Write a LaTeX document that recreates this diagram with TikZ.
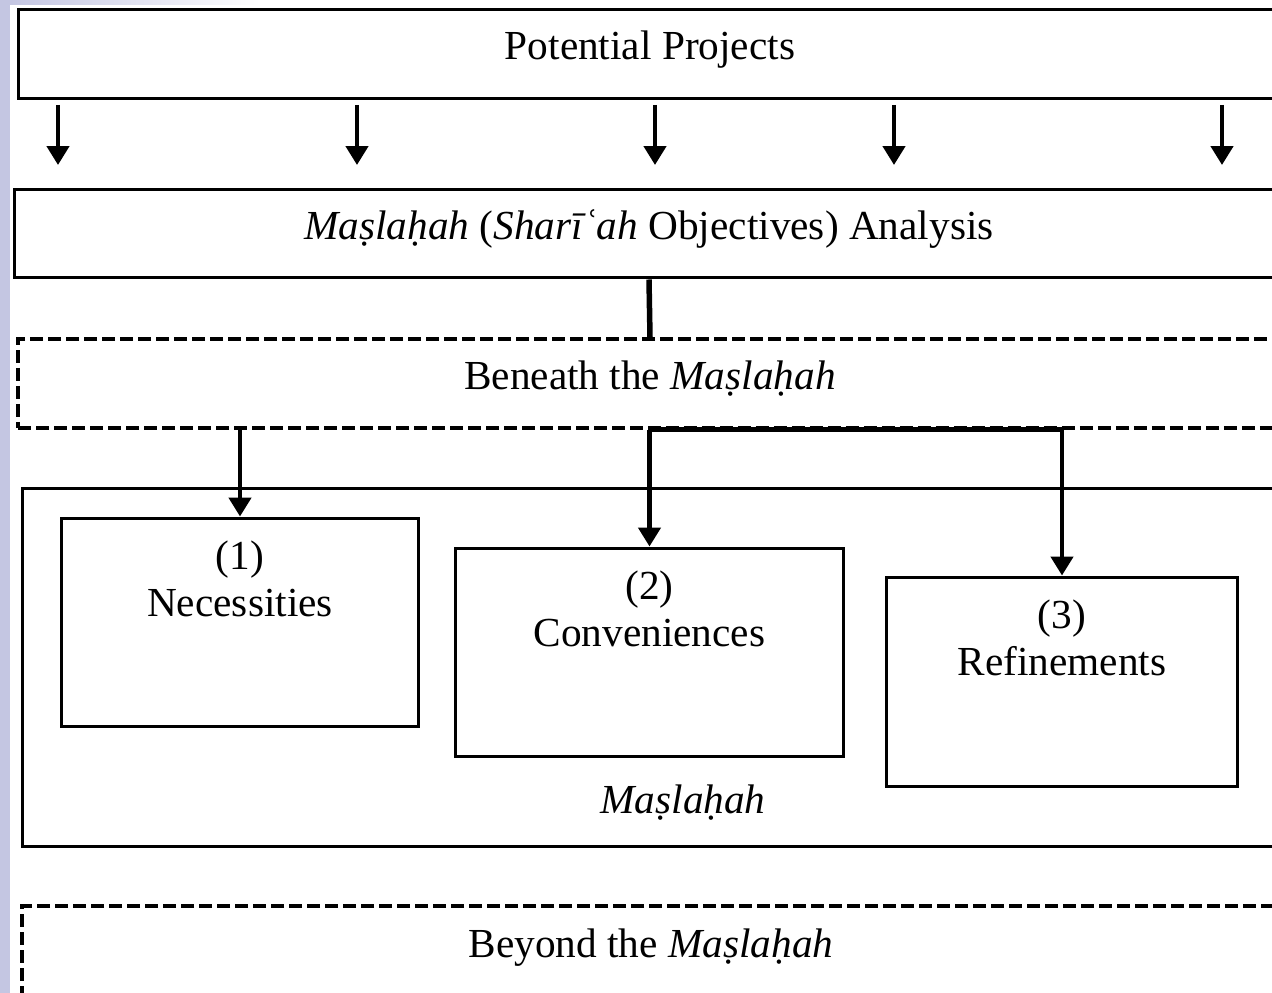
\documentclass[tikz,border=0pt]{standalone}
\usepackage{fontspec}
\setmainfont{Liberation Serif}
\usetikzlibrary{arrows.meta,positioning}
\newcommand{\maslahah}{\textit{Maṣlaḥah}}
\definecolor{lavender}{RGB}{196,198,226}

\begin{document}
\begin{tikzpicture}[x=0.02cm,y=-0.02cm,
    every node/.style={font=\fontsize{23.5}{26.8}\selectfont},
    box/.style={draw,rectangle,line width=0.06cm,inner sep=0pt},
    head/.style={box,text height=0.52cm,text depth=0.28cm},
    dbox/.style={box,line width=0.07cm,dash pattern=on 0.26cm off 0.1cm},
    txt/.style={align=center,inner sep=0pt},
    arr/.style={line width=0.09cm,-{Triangle[width=0.44cm,length=0.38cm]}},
    conn/.style={line width=0.11cm}]
  \useasboundingbox (0,0) rectangle (1272,993);
  \clip (0,0) rectangle (1272,993);
  \fill[white] (0,0) rectangle (1272,993);
  \fill[lavender] (0,0) rectangle (10,993);
  \shade[left color=lavender,right color=white] (10,0) rectangle (260,5);

  % top boxes
  \node[head,minimum width=25.28cm,minimum height=1.8cm] (pp) at (650,54) {Potential Projects};
  \node[head,minimum width=25.4cm,minimum height=1.78cm] (ana) at (649,233.5)
    {\maslahah{} (\textit{Sharīʿah} Objectives) Analysis};
  \node[head,dbox,minimum width=25.28cm,minimum height=1.78cm] (ben) at (650,383.5) {Beneath the \maslahah};

  \foreach \x in {58,357,655,894,1222}
    \draw[arr,shorten <=0.09cm,shorten >=0.45cm] (pp.south -| \x,0) -- (ana.north -| \x,0);
  \draw[conn] (ana.south) -- (ben.north);

  % the three levels
  \node[box,minimum width=25.16cm,minimum height=7.18cm] (mas) at (651,667.5) {};
  \node[box,minimum width=7.16cm,minimum height=4.18cm] (nec) at (240,622.5) {};
  \node[box,minimum width=7.78cm,minimum height=4.18cm] (conv) at (649.5,652.5) {};
  \node[box,minimum width=7.04cm,minimum height=4.2cm] (refi) at (1062,682) {};
  \node[txt,below=0.48cm of nec.north] (nect) {(1)\\Necessities};
  \node[txt,below=0.48cm of conv.north] (convt) {(2)\\Conveniences};
  \node[txt,below=0.48cm of refi.north] (refit) {(3)\\Refinements};
  \node (masl) at (683,803) {\maslahah};

  \draw[arr] (ben.south -| nec.north) -- (nec.north);
  \draw[arr] (ben.south -| conv.north) -- (conv.north);
  \draw[arr] (ben.south -| conv.north) -- (ben.south -| refi.north) -- (refi.north);

  % beyond
  \node[dbox,minimum width=25.16cm,minimum height=3.88cm] (bey) at (651,1003) {};
  \node[txt,below=0.48cm of bey.north] (beyt) {Beyond the \maslahah};
\end{tikzpicture}
\end{document}
